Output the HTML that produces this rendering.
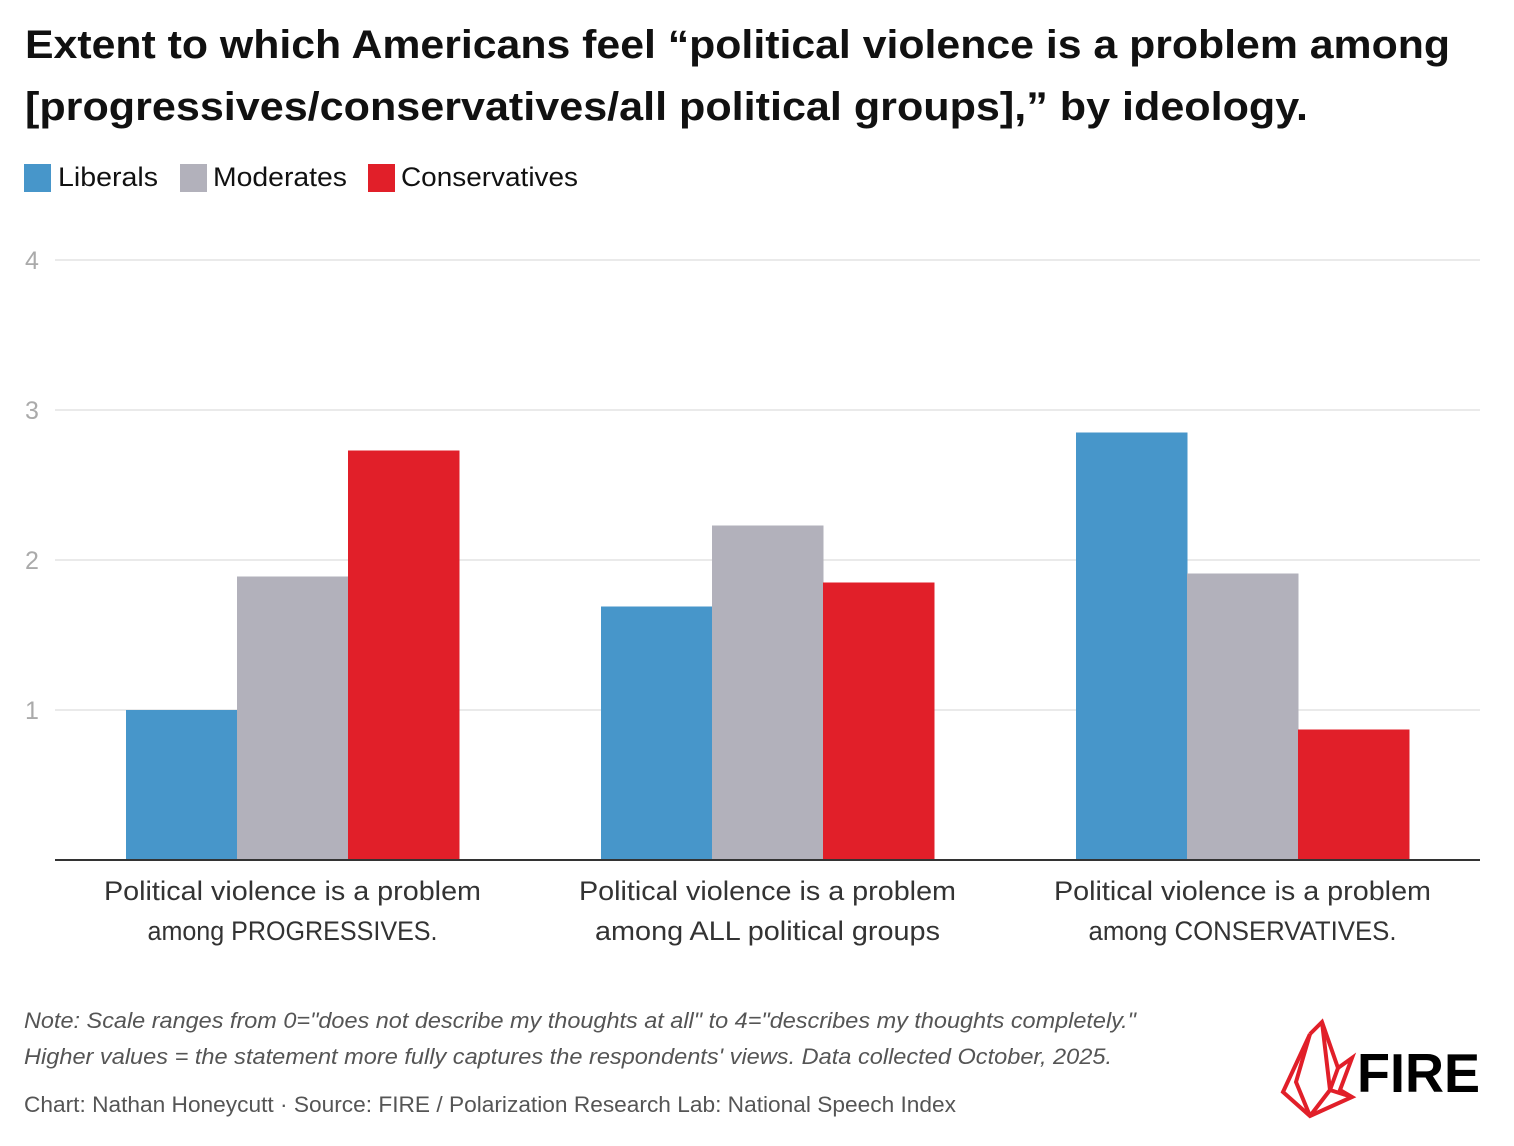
<!DOCTYPE html>
<html><head><meta charset="utf-8"><style>
body{margin:0;background:#fff;}
svg{display:block;font-family:"Liberation Sans",sans-serif;}
</style></head><body>
<svg width="1514" height="1146" viewBox="0 0 1514 1146">
<g font-weight="bold" font-size="40" fill="#111">
<text x="25" y="58" textLength="1425" lengthAdjust="spacingAndGlyphs">Extent to which Americans feel “political violence is a problem among</text>
<text x="25" y="120" textLength="1283" lengthAdjust="spacingAndGlyphs">[progressives/conservatives/all political groups],” by ideology.</text>
</g>
<g font-size="27" fill="#111">
<rect x="24" y="164" width="27" height="28" fill="#4796CA"/>
<text x="58" y="186" textLength="100" lengthAdjust="spacingAndGlyphs">Liberals</text>
<rect x="180" y="164" width="27" height="28" fill="#B2B1BB"/>
<text x="213" y="186" textLength="134" lengthAdjust="spacingAndGlyphs">Moderates</text>
<rect x="368" y="164" width="27" height="28" fill="#E11F29"/>
<text x="401" y="186" textLength="177" lengthAdjust="spacingAndGlyphs">Conservatives</text>
</g>
<g id="plot"></g>
<g font-size="22" font-style="italic" fill="#555">
<text x="24" y="1028" textLength="1112" lengthAdjust="spacingAndGlyphs">Note: Scale ranges from 0="does not describe my thoughts at all" to 4="describes my thoughts completely."</text>
<text x="24" y="1064" textLength="1088" lengthAdjust="spacingAndGlyphs">Higher values = the statement more fully captures the respondents' views. Data collected October, 2025.</text>
</g>
<text x="24" y="1112" font-size="22" fill="#555" textLength="932" lengthAdjust="spacingAndGlyphs">Chart: Nathan Honeycutt · Source: FIRE / Polarization Research Lab: National Speech Index</text>
<g>
<g fill="none" stroke="#E11F29" stroke-width="4" stroke-linejoin="miter">
<polyline points="1310,1034 1283,1092 1310,1116 1352,1097 1340,1090 1352,1058 1338,1068 1322,1022 1310,1034"/>
<polyline points="1310,1034 1296,1082 1310,1116"/>
<polyline points="1322,1022 1330,1090 1310,1116"/>
<polyline points="1338,1068 1330,1090 1352,1097"/>
</g>
<text x="1357" y="1092" font-size="55" font-weight="bold" fill="#000" textLength="123" lengthAdjust="spacingAndGlyphs">FIRE</text>
</g>
</svg>
<script>
const categories=[["Political violence is a problem","among PROGRESSIVES."],["Political violence is a problem","among ALL political groups"],["Political violence is a problem","among CONSERVATIVES."]];
const labelWidths=[[377,290],[377,345],[377,308]];
const seriesNames=["Liberals","Moderates","Conservatives"];
const liberals=[1.0,1.69,2.85];
const moderates=[1.89,2.23,1.91];
const conservatives=[2.73,1.85,0.87];
const yTicks=[1,2,3,4];
const colors=["#4796CA","#B2B1BB","#E11F29"];
const NS="http://www.w3.org/2000/svg";
const plot=document.getElementById('plot');
const x0=55,x1=1480,y0=860,pxPerUnit=150;
const y=v=>y0-v*pxPerUnit;
const band=(x1-x0)/categories.length;
const barW=111;
function mk(t,a){const e=document.createElementNS(NS,t);for(const k in a)e.setAttribute(k,a[k]);plot.appendChild(e);return e;}
yTicks.forEach(t=>{
 const l=mk('line',{x1:x0,x2:x1,y1:y(t),y2:y(t),stroke:'#e3e3e3','stroke-width':1.5});
 
 
 const tx=mk('text',{x:25,y:y(t)+9,'font-size':25,fill:'#aaa'});
 tx.textContent=t;
 
 
});
const series=[liberals,moderates,conservatives];
categories.forEach((c,i)=>{
 const cx=x0+band*(i+0.5);
 series.forEach((s,j)=>{
  const bx=cx-barW*1.5+barW*j;
  const r=mk('rect',{x:bx,y:y(s[i]),width:barW+0.5,height:y0-y(s[i]),fill:colors[j]});
  
  
 });
 c.forEach((line,k)=>{
  const w=labelWidths[i][k];
  const t=mk('text',{x:cx-w/2,y:900+k*40,'font-size':27,fill:'#333',textLength:w,lengthAdjust:'spacingAndGlyphs'});
  t.textContent=line;
  
  
 });
});
const ax=mk('line',{x1:x0,x2:x1,y1:y0,y2:y0,stroke:'#333','stroke-width':2});


</script>
</body></html>
